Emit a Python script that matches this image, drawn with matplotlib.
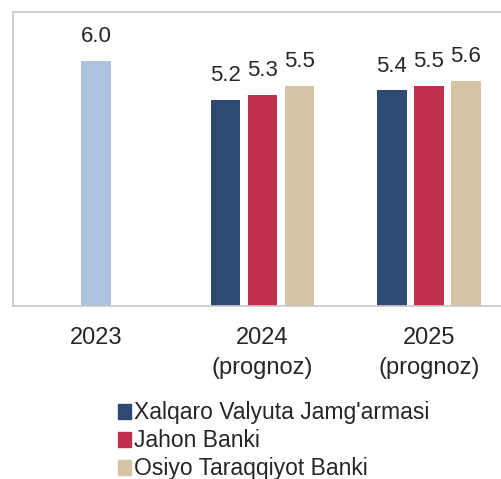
import matplotlib.pyplot as plt
import numpy as np
from matplotlib.patches import Patch

plt.rcParams['font.family'] = ['Liberation Sans', 'DejaVu Sans']

categories = ["2023", "2024\n(prognoz)", "2025\n(prognoz)"]
fact_2023 = 6.0
series_names = ["Xalqaro Valyuta Jamg'armasi", "Jahon Banki", "Osiyo Taraqqiyot Banki"]
imf = [5.2, 5.4]
wb = [5.3, 5.5]
adb = [5.5, 5.6]

colors = ["#2e4a72", "#c0304f", "#d5c4a6"]
fact_color = "#adc2e0"
txt = "#262626"

fig = plt.figure(figsize=(5.01, 4.79), dpi=100)
ax = fig.add_axes([13 / 501, 1 - 306 / 479, 499 / 501, 294 / 479])

w = 0.178
step = 0.223
x = np.arange(len(categories))

b0 = ax.bar(x[0], fact_2023, width=w, bottom=0, color=fact_color)
ax.bar_label(b0, fmt="%.1f", padding=10, fontsize=16, color=txt)

for i, (vals, c) in enumerate(zip([imf, wb, adb], colors)):
    bars = ax.bar(x[1:] + (i - 1) * step, vals, width=w, color=c)
    ax.bar_label(bars, fmt="%.1f", padding=10, fontsize=16, color=txt)

ax.set_ylim(1, 7)
ax.set_xlim(-0.5, 2.5)
ax.set_yticks([])
ax.set_xticks(x)
ax.set_xticklabels(categories, fontsize=17, color=txt, linespacing=1.5)
ax.tick_params(axis='x', length=0, pad=15)
for s in ["left", "top", "bottom"]:
    ax.spines[s].set_color("#c8c8c8")
    ax.spines[s].set_linewidth(1.2)
ax.spines["right"].set_visible(False)

handles = [Patch(color=c) for c in colors]
fig.legend(handles, series_names, loc="upper left", bbox_to_anchor=(0.235, 0.162),
           frameon=False, fontsize=16.5, handlelength=0.6, handleheight=0.6,
           handletextpad=0.12, labelspacing=0.22, borderpad=0, borderaxespad=0,
           labelcolor=txt)

fig.savefig("out.png", dpi=100)
